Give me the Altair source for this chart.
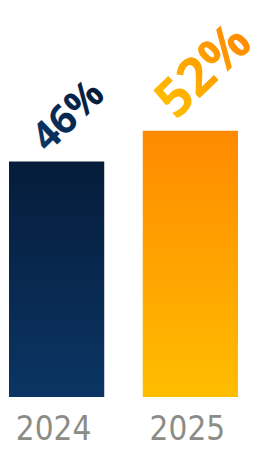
import altair as alt
import pandas as pd

years = ["2024", "2025"]
values = [46, 52]
labels = ["46%", "52%"]

df = pd.DataFrame({"year": years, "value": values, "label": labels})

navy_bar = alt.Gradient(gradient="linear", x1=0, y1=0, x2=0, y2=1,
                        stops=[alt.GradientStop(color="#051c3a", offset=0),
                               alt.GradientStop(color="#0b3564", offset=1)])
orange_bar = alt.Gradient(gradient="linear", x1=0, y1=0, x2=0, y2=1,
                          stops=[alt.GradientStop(color="#ff8a00", offset=0),
                                 alt.GradientStop(color="#ffbd00", offset=1)])
navy_txt = alt.Gradient(gradient="linear", x1=0, y1=0, x2=1, y2=0,
                        stops=[alt.GradientStop(color="#0b3564", offset=0),
                               alt.GradientStop(color="#051c3a", offset=1)])
orange_txt = alt.Gradient(gradient="linear", x1=0, y1=0, x2=1, y2=0,
                          stops=[alt.GradientStop(color="#ffbd00", offset=0),
                                 alt.GradientStop(color="#ff8a00", offset=1)])

x_enc = alt.X("year:N", sort=years,
              scale=alt.Scale(paddingInner=0.288, paddingOuter=0.0075),
              axis=alt.Axis(title=None, ticks=False, domain=False, labelAngle=0,
                            labelFont="DejaVu Sans Condensed, Roboto Condensed, Lato",
                            labelFontSize=33, labelFontWeight=300,
                            labelColor="#8c8c86", labelPadding=16, labelOffset=-3))
y_enc = alt.Y("value:Q", scale=alt.Scale(domain=[0, 76]), axis=None)

base = alt.Chart(df).encode(x=x_enc, y=y_enc)

bar1 = base.transform_filter(alt.datum.year == "2024").mark_bar(color=navy_bar)
bar2 = base.transform_filter(alt.datum.year == "2025").mark_bar(color=orange_bar)

txt1 = base.transform_filter(alt.datum.year == "2024").mark_text(
    angle=316, align="center", baseline="middle", font="Open Sans", fontWeight="bold",
    fontSize=40, dx=40, dy=-24, fill=navy_txt).encode(text="label:N")
txt2 = base.transform_filter(alt.datum.year == "2025").mark_text(
    angle=316, align="center", baseline="middle", font="Open Sans", fontWeight="bold",
    fontSize=53, dx=51, dy=-33, fill=orange_txt).encode(text="label:N")

chart = alt.layer(bar1, bar2, txt1, txt2).properties(
    width=231, height=389,
    autosize=alt.AutoSizeParams(type="none"),
    padding={"left": 0, "top": 0, "right": 25, "bottom": 50},
).configure_view(stroke=None)

chart.save("out.html", embed_options={"renderer": "svg", "actions": False})
